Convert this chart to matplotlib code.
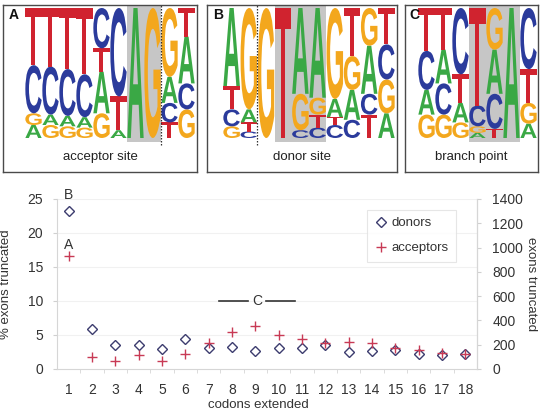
import matplotlib
matplotlib.use("Agg")
import matplotlib.pyplot as plt
from matplotlib.textpath import TextPath
from matplotlib.patches import PathPatch, Rectangle
from matplotlib.font_manager import FontProperties
from matplotlib.transforms import Affine2D

plt.rcParams["font.family"] = ["Liberation Sans", "DejaVu Sans"]

# ---------------- data ----------------
# sequence logos: letters from bottom to top, with their frequencies
acceptor_letters = ["AGCT", "GACT", "GACT", "GACT", "GATC", "ATC", "A", "G", "TCAG", "GCAT"]
acceptor_freqs = [[.10, .09, .37, .44], [.10, .08, .37, .45], [.09, .08, .36, .47],
                  [.08, .08, .33, .51], [.19, .32, .18, .31], [.06, .26, .68],
                  [1.0], [1.0], [.12, .15, .20, .53], [.22, .20, .36, .22]]
donor_letters = ["GCTA", "CTAG", "G", "T", "CGA", "CTGA", "CTAG", "CAGT", "TCAG", "AGCT"]
donor_freqs = [[.09, .13, .18, .60], [.05, .07, .10, .78], [1.0], [1.0],
               [.06, .28, .66], [.08, .10, .13, .69], [.10, .06, .14, .70],
               [.14, .23, .26, .37], [.18, .16, .37, .29], [.19, .26, .27, .28]]
branch_letters = ["GACT", "GCAT", "GATC", "AGCT", "TCAG", "A", "AGTC"]
branch_freqs = [[.18, .19, .30, .33], [.18, .24, .26, .32], [.12, .15, .22, .51],
                [.04, .05, .16, .75], [.07, .27, .34, .32], [1.0], [.11, .16, .26, .47]]

codons = list(range(1, 19))
donors_pct = [23.3, 5.9, 3.58, 3.58, 2.9, 4.4, 3.05, 3.2, 2.72, 3.08,
              3.08, 3.55, 2.55, 2.6, 2.8, 2.25, 2.1, 2.2]
acceptors_pct = [16.6, 1.72, 1.23, 2.1, 1.23, 2.25, 3.8, 5.44, 6.37, 4.95,
                 4.46, 3.77, 3.97, 3.77, 3.04, 2.74, 2.35, 2.25]

# ---------------- figure ----------------
W, H = 541, 413
fig = plt.figure(figsize=(W / 100, H / 100), dpi=100)
fig.patch.set_facecolor("white")

LETTER_COLORS = {"A": "#3aa845", "C": "#2b3b9c", "G": "#f3a71d", "T": "#d0232f"}
fp = FontProperties(family="Liberation Sans", weight="bold")
_cache = {}
FS = 9


def glyph(ch):
    if ch not in _cache:
        _cache[ch] = TextPath((0, 0), ch, size=1, prop=fp)
    return _cache[ch]


def draw_letter(ax, ch, x0, y0, w, h):
    p = glyph(ch)
    e = p.get_extents()
    t = (Affine2D().translate(-e.x0, -e.y0)
         .scale(w / e.width, h / e.height).translate(x0, y0))
    ax.add_patch(PathPatch(t.transform_path(p), fc=LETTER_COLORS[ch], ec="none", lw=0))


def logo_panel(box, col0, colw, letters, freqs, shade, dotted, tag, label):
    left, top, right, bottom = box
    base_px, top_px = 138, 8
    unit = base_px - top_px
    ax = fig.add_axes([left / W, 1 - bottom / H, (right - left) / W, (bottom - top) / H])
    ax.set_xlim((left - col0) / colw, (right - col0) / colw)
    ax.set_ylim(-(bottom - base_px) / unit, 1 + (top_px - top) / unit)
    ax.set_xticks([]); ax.set_yticks([])
    for s in ax.spines.values():
        s.set_color("#4a4a4a"); s.set_linewidth(1.0)
    if shade:
        a, b = shade
        ax.add_patch(Rectangle((a, -0.03), b - a, 1.05, fc="#c6c6c6", ec="none", zorder=0))
    for i, (lets, fr) in enumerate(zip(letters, freqs)):
        y = 0.0
        for ch, f in zip(lets, fr):
            draw_letter(ax, ch, i + 0.02, y, 0.96, f)
            y += f
    if dotted is not None:
        ax.plot([dotted, dotted], [-0.05, 1.03], ls=(0, (1.2, 1.2)), color="#333333", lw=0.9)
    ax.text(0.03, 0.94, tag, transform=ax.transAxes, fontsize=10, fontweight="bold",
            color="#111111", ha="left", va="center")
    ax.text(0.5, 0.09, label, transform=ax.transAxes, fontsize=FS + 0.5, color="#222222",
            ha="center", va="center")


logo_panel((3, 5, 197, 172), 25, 17.0, acceptor_letters, acceptor_freqs, (6, 8), 8, "A", "acceptor site")
logo_panel((207, 5, 397, 172), 223, 17.2, donor_letters, donor_freqs, (3, 6), 2, "B", "donor site")
logo_panel((405, 5, 538, 172), 418, 17.0, branch_letters, branch_freqs, (3, 6), None, "C", "branch point")

# ---------------- scatter chart ----------------
ax = fig.add_axes([57 / W, 1 - 369 / H, 420 / W, 170 / H])
ax.set_xlim(0.5, 18.5)
ax.set_ylim(0, 25)
ax.set_yticks([0, 5, 10, 15, 20, 25])
ax.set_xticks(codons)
ax.set_xticks([c + 0.5 for c in codons[:-1]], minor=True)
for y in [5, 10, 15, 20, 25]:
    ax.axhline(y, color="#f1f1f1", lw=0.8, zorder=0)
ax.plot(codons, donors_pct, ls="none", marker="D", ms=5, mfc="white",
        mec="#3c3c6e", mew=1.0, label="donors", zorder=3)
ax.plot(codons, acceptors_pct, ls="none", marker="+", ms=7.5,
        mec="#c83a55", mew=1.0, label="acceptors", zorder=3)

ax.spines["top"].set_visible(False)
for side in ["left", "bottom", "right"]:
    ax.spines[side].set_color("#d6d6d6")
    ax.spines[side].set_linewidth(0.8)
ax.tick_params(axis="y", length=3, color="#d0d0d0", labelsize=FS + 1, labelcolor="#333333", pad=7)
ax.tick_params(axis="x", which="major", length=0, labelsize=FS + 1, labelcolor="#333333", pad=10)
ax.tick_params(axis="x", which="minor", length=3, color="#d6d6d6")
ax.set_ylabel("% exons truncated", fontsize=FS + 0.5, color="#333333")
ax.yaxis.set_label_coords((12 - 57) / 420, 0.5)

ax2 = ax.twinx()
ax2.set_ylim(0, 1400)
ax2.set_yticks(range(0, 1401, 200))
for side in ["top", "left", "bottom"]:
    ax2.spines[side].set_visible(False)
ax2.spines["right"].set_color("#d6d6d6")
ax2.spines["right"].set_linewidth(0.8)
ax2.tick_params(axis="y", length=3, color="#d0d0d0", labelsize=FS + 1, labelcolor="#333333", pad=8)
ax2.set_ylabel("exons truncated", fontsize=FS + 0.5, color="#333333", rotation=270, va="center")
ax2.yaxis.set_label_coords((531 - 57) / 420, 0.5)

# annotations
ax.text(1, 25.6, "B", fontsize=FS + 1, color="#333333", ha="center", va="center", clip_on=False)
ax.text(1, 18.3, "A", fontsize=FS + 1, color="#333333", ha="center", va="center")
ax.text(9.07, 10, "C", fontsize=FS + 1, color="#333333", ha="center", va="center")
ax.plot([7.45, 8.7], [10, 10], color="#333333", lw=1.2)
ax.plot([9.45, 10.7], [10, 10], color="#333333", lw=1.2)

leg = ax.legend(loc="upper left", bbox_to_anchor=(367 / W, 1 - 210 / H),
                bbox_transform=fig.transFigure, fontsize=FS + 0.5, frameon=True,
                fancybox=False, edgecolor="#e0e0e0", handletextpad=0.3,
                handlelength=1.0, borderpad=0.55, labelspacing=0.95, borderaxespad=0)
leg.get_frame().set_linewidth(0.8)
for t in leg.get_texts():
    t.set_color("#333333")

fig.text(258 / W, 1 - 405 / H, "codons extended", fontsize=FS + 0.5, color="#333333",
         ha="center", va="center")

fig.savefig("out.png", dpi=100)
